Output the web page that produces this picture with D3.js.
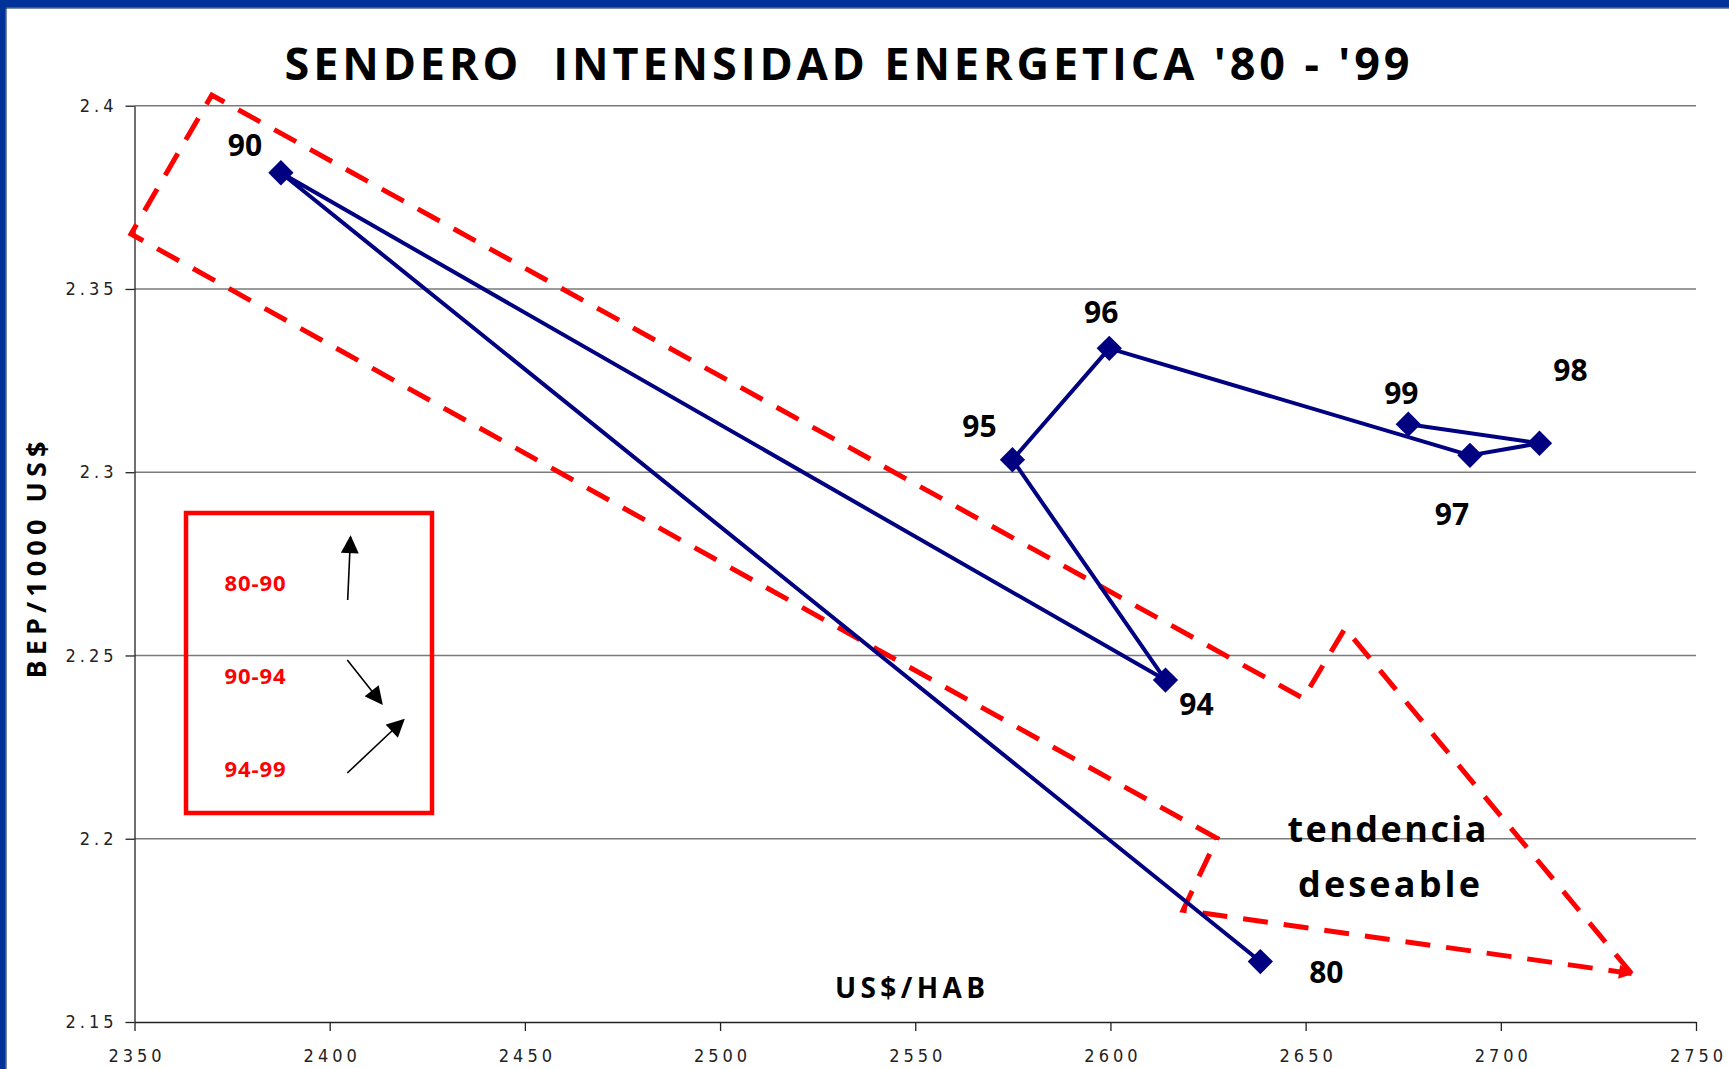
<!DOCTYPE html>
<html>
<head>
<meta charset="utf-8">
<script src="https://cdn.jsdelivr.net/npm/d3@7"></script>
<style>
  html, body { margin: 0; padding: 0; background: #fff; }
  svg { display: block; }
  text { white-space: pre; }
</style>
</head>
<body>
<svg id="chart" width="1729" height="1069"></svg>
<script>
// ---------------- DATA ----------------
const years      = ["80", "90", "94", "95", "96", "97", "98", "99"];
const usPerHab   = [2638.4, 2387.5, 2614.1, 2574.9, 2599.7, 2692.1, 2709.9, 2676.3];
const bepPer1000 = [2.1665, 2.3817, 2.2433, 2.3034, 2.3338, 2.3046, 2.3079, 2.3131];

const xTickValues = [2350, 2400, 2450, 2500, 2550, 2600, 2650, 2700, 2750];
const xTickLabels = ["2350", "2400", "2450", "2500", "2550", "2600", "2650", "2700", "2750"];
const yTickValues = [2.15, 2.2, 2.25, 2.3, 2.35, 2.4];
const yTickLabels = ["2.15", "2.2", "2.25", "2.3", "2.35", "2.4"];

// "tendencia deseable" dashed arrow outline, vertices in data units (US$/HAB, BEP/1000 US$)
const trendX = [2733.5, 2660.1, 2649.4, 2369.8, 2349.1, 2627.3, 2618.6, 2733.5];
const trendY = [2.1632, 2.2574, 2.2383, 2.4029, 2.3650, 2.2001, 2.1805, 2.1632];

const legendLabels = ["80-90", "90-94", "94-99"];

// ---------------- LAYOUT ----------------
const W = 1729, H = 1069;
const plot = { left: 134.5, right: 1696, top: 105.7, bottom: 1022 };
// label offsets (px) relative to each marker, same order as years
const labelDx = [66, -36, 31, -33, -8, -18, 31, -7];
const labelDy = [10, -28, 23, -34, -37, 58, -74, -32];

const svg = d3.select("#chart");

svg.append("defs").call(defs => {
  defs.append("marker")
    .attr("id", "redHead").attr("markerUnits", "userSpaceOnUse")
    .attr("viewBox", "0 0 10 10").attr("refX", 9).attr("refY", 5)
    .attr("markerWidth", 18).attr("markerHeight", 14).attr("orient", "auto")
    .append("path").attr("d", "M0,0 L10,5 L0,10 Z").attr("fill", "#ff0000");
  defs.append("marker")
    .attr("id", "blackHead").attr("markerUnits", "userSpaceOnUse")
    .attr("viewBox", "0 0 10 10").attr("refX", 9).attr("refY", 5)
    .attr("markerWidth", 19).attr("markerHeight", 18).attr("orient", "auto")
    .append("path").attr("d", "M0,0 L10,5 L0,10 Z").attr("fill", "#000");
});

svg.append("rect").attr("width", W).attr("height", H).attr("fill", "#fff");

const x = d3.scaleLinear().domain([2350, 2750]).range([plot.left, plot.right]);
const y = d3.scaleLinear().domain([2.15, 2.4]).range([plot.bottom, plot.top]);

// gridlines
svg.append("g").selectAll("line")
  .data(yTickValues.filter(v => v > 2.15))
  .join("line")
  .attr("x1", plot.left).attr("x2", plot.right)
  .attr("y1", d => y(d)).attr("y2", d => y(d))
  .attr("stroke", "#7a7a7a").attr("stroke-width", 1.5);

// axes
const tickFont = "'Liberation Sans Narrow', 'DejaVu Sans Condensed', 'Liberation Sans', sans-serif";
const xAxis = svg.append("g")
  .attr("transform", `translate(0,${plot.bottom})`)
  .call(d3.axisBottom(x).tickValues(xTickValues)
    .tickFormat((d, i) => xTickLabels[i]).tickSize(9).tickSizeOuter(0).tickPadding(18));
const yAxis = svg.append("g")
  .attr("transform", `translate(${plot.left},0)`)
  .call(d3.axisLeft(y).tickValues(yTickValues)
    .tickFormat((d, i) => yTickLabels[i]).tickSize(9).tickSizeOuter(0).tickPadding(12));
[xAxis, yAxis].forEach(g => {
  g.select(".domain").attr("stroke", "#222").attr("stroke-width", 1.3);
  g.selectAll(".tick line").attr("stroke", "#222").attr("stroke-width", 1.3);
  g.selectAll(".tick text")
    .attr("font-family", tickFont).attr("font-size", 18)
    .attr("letter-spacing", "4px").attr("fill", "#222");
});
xAxis.selectAll(".tick text").attr("dy", "0.71em").attr("dx", "2px");
yAxis.selectAll(".tick text").attr("dx", "4px");

// red dashed arrow outline
const trendPts = trendX.map((v, i) => [x(v), y(trendY[i])]);
svg.append("path")
  .attr("d", d3.line()(trendPts))
  .attr("fill", "none").attr("stroke", "#ff0000")
  .attr("stroke-width", 5).attr("stroke-dasharray", "25,16")
  .attr("stroke-linejoin", "miter")
  .attr("marker-end", "url(#redHead)");

// data path
const pts = usPerHab.map((v, i) => [x(v), y(bepPer1000[i])]);
svg.append("path")
  .attr("d", d3.line()(pts))
  .attr("fill", "none").attr("stroke", "#000080")
  .attr("stroke-width", 4).attr("stroke-linejoin", "round");

svg.append("g").selectAll("path")
  .data(pts).join("path")
  .attr("d", d3.symbol().type(d3.symbolSquare).size(320))
  .attr("transform", d => `translate(${d[0]},${d[1]}) rotate(45)`)
  .attr("fill", "#000080");

// year labels
const boldFont = "'Open Sans', 'Noto Sans', 'DejaVu Sans', sans-serif";
svg.append("g").selectAll("text")
  .data(years).join("text")
  .attr("x", (d, i) => pts[i][0] + labelDx[i])
  .attr("y", (d, i) => pts[i][1] + labelDy[i])
  .attr("text-anchor", "middle").attr("dominant-baseline", "central")
  .attr("font-family", boldFont).attr("font-weight", 700).attr("font-size", 30)
  .attr("fill", "#000").text(d => d);

// title
svg.append("text")
  .attr("x", 847).attr("y", 80).attr("text-anchor", "middle")
  .attr("font-family", boldFont).attr("font-weight", 700).attr("font-size", 45)
  .attr("textLength", 1125).attr("lengthAdjust", "spacing")
  .attr("fill", "#000")
  .text("SENDERO  INTENSIDAD ENERGETICA '80 - '99");

// axis titles
svg.append("text")
  .attr("transform", "translate(46,560) rotate(-90)")
  .attr("text-anchor", "middle")
  .attr("font-family", boldFont).attr("font-weight", 700).attr("font-size", 27)
  .attr("textLength", 237).attr("lengthAdjust", "spacing")
  .text("BEP/1000 US$");
svg.append("text")
  .attr("x", 910).attr("y", 998).attr("text-anchor", "middle")
  .attr("font-family", boldFont).attr("font-weight", 700).attr("font-size", 28)
  .attr("textLength", 150).attr("lengthAdjust", "spacing")
  .text("US$/HAB");

// "tendencia deseable"
svg.append("text")
  .attr("x", 1387).attr("y", 842).attr("text-anchor", "middle")
  .attr("font-family", boldFont).attr("font-weight", 700).attr("font-size", 36)
  .attr("textLength", 199).attr("lengthAdjust", "spacing")
  .text("tendencia");
svg.append("text")
  .attr("x", 1389).attr("y", 897).attr("text-anchor", "middle")
  .attr("font-family", boldFont).attr("font-weight", 700).attr("font-size", 36)
  .attr("textLength", 182).attr("lengthAdjust", "spacing")
  .text("deseable");

// legend box
const legend = { x: 186, y: 513, w: 246, h: 300 };
svg.append("rect")
  .attr("x", legend.x).attr("y", legend.y).attr("width", legend.w).attr("height", legend.h)
  .attr("fill", "none").attr("stroke", "#ff0000").attr("stroke-width", 4.5);
const legendLabelY = [582, 675, 768];
svg.append("g").selectAll("text")
  .data(legendLabels).join("text")
  .attr("x", 255).attr("y", (d, i) => legendLabelY[i])
  .attr("text-anchor", "middle").attr("dominant-baseline", "central")
  .attr("font-family", boldFont).attr("font-weight", 700).attr("font-size", 22)
  .attr("textLength", 61).attr("lengthAdjust", "spacing")
  .attr("fill", "#ff0000").text(d => d);
const legendArrows = [
  [347.7, 600, 350.5, 537],
  [347.3, 660, 381.7, 703.5],
  [347.3, 773, 403.5, 720]
];
svg.append("g").selectAll("line")
  .data(legendArrows).join("line")
  .attr("x1", d => d[0]).attr("y1", d => d[1])
  .attr("x2", d => d[2]).attr("y2", d => d[3])
  .attr("stroke", "#000").attr("stroke-width", 1.6)
  .attr("marker-end", "url(#blackHead)");

// blue frame (top and left)
svg.append("rect").attr("x", 0).attr("y", 0).attr("width", W).attr("height", 7.5).attr("fill", "#003399");
svg.append("rect").attr("x", 0).attr("y", 7.5).attr("width", W).attr("height", 1).attr("fill", "#001a4d");
svg.append("rect").attr("x", 0).attr("y", 0).attr("width", 5.5).attr("height", H).attr("fill", "#003399");
svg.append("rect").attr("x", 5.5).attr("y", 7.5).attr("width", 1).attr("height", H).attr("fill", "#001a4d");
</script>
</body>
</html>
